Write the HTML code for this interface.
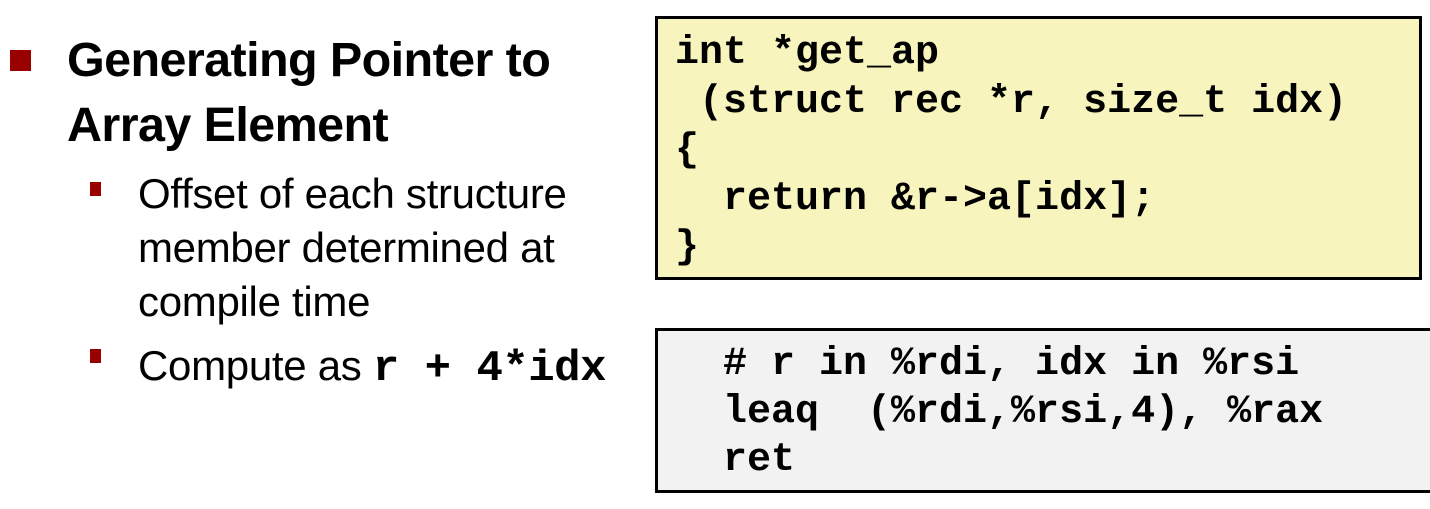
<!DOCTYPE html>
<html><head><style>
body{margin:0;width:1430px;height:509px;background:#fff;position:relative;overflow:hidden;font-family:"Liberation Sans",sans-serif;}
.a{position:absolute;white-space:pre;}
.t{font-weight:bold;font-size:48.5px;color:#000;letter-spacing:-0.6px;}
.s{font-size:42px;color:#000;letter-spacing:-0.3px;}
.m{font-family:"Liberation Mono",monospace;font-weight:bold;font-size:40px;color:#000;}
.sq{position:absolute;background:#990000;}
</style></head><body>
<div class="sq" style="left:10px;top:50px;width:21px;height:21px"></div>
<div class="a t" style="left:67px;top:32px">Generating Pointer to</div>
<div class="a t" style="left:67px;top:97px">Array Element</div>
<div class="sq" style="left:90px;top:182px;width:11px;height:14px"></div>
<div class="a s" style="left:138px;top:170px">Offset of each structure</div>
<div class="a s" style="left:138px;top:224px">member determined at</div>
<div class="a s" style="left:138px;top:278px">compile time</div>
<div class="sq" style="left:90px;top:349px;width:11px;height:14px"></div>
<div class="a s" style="left:138px;top:342px">Compute as <span class="m" style="font-size:44px;letter-spacing:-0.5px">r + 4*idx</span></div>

<div style="position:absolute;left:655px;top:16px;width:761px;height:258px;background:#f7f5bd;border:3px solid #000"></div>
<div class="a m" style="left:675px;top:30px;line-height:48.5px">int *get_ap
 (struct rec *r, size_t idx)
{
  return &amp;r-&gt;a[idx];
}</div>

<div style="position:absolute;left:655px;top:328px;width:790px;height:159px;background:#f2f2f2;border:3px solid #000"></div>
<div class="a m" style="left:675px;top:341px;line-height:48px">  # r in %rdi, idx in %rsi
  leaq  (%rdi,%rsi,4), %rax
  ret</div>
</body></html>
